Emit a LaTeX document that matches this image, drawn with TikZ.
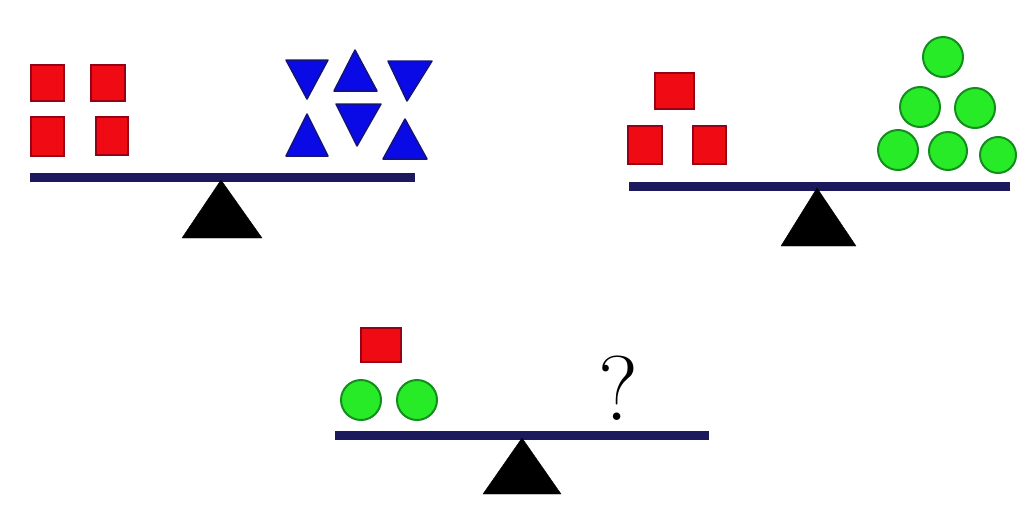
\documentclass[tikz,border=0pt]{standalone}
\usepackage{tikz}

\definecolor{beamblue}{RGB}{28,26,92}
\definecolor{boxred}{RGB}{240,10,20}
\definecolor{boxedge}{RGB}{150,0,20}
\definecolor{triblue}{RGB}{10,10,230}
\definecolor{triedge}{RGB}{20,20,120}
\definecolor{ballgreen}{RGB}{40,235,40}
\definecolor{balledge}{RGB}{20,140,30}

\begin{document}
\begin{tikzpicture}[x=1pt, y=-1pt,
  beam/.style={line width=9pt, beamblue},
  fulcrum/.style={fill=black, draw=black, line join=round},
  weightbox/.style={fill=boxred, draw=boxedge, line width=2pt},
  weighttri/.style={fill=triblue, draw=triedge, line width=1.5pt, line join=round},
  weightball/.style={fill=ballgreen, draw=balledge, line width=2pt}]
  \useasboundingbox (0,0) rectangle (1019,509);

  % Scale 1: four squares against six triangles
  \draw[beam] (30,177) -- (415,177);
  \filldraw[fulcrum] (221,180) -- (262,238) -- (182,238) -- cycle;
  \filldraw[weightbox] (31,65) rectangle (64,101);
  \filldraw[weightbox] (91,65) rectangle (125,101);
  \filldraw[weightbox] (31,117) rectangle (64,156);
  \filldraw[weightbox] (96,117) rectangle (128,155);
  % triangles
  \filldraw[weighttri] (286,60) -- (328,60) -- (307,99) -- cycle;
  \filldraw[weighttri] (334,91) -- (377,91) -- (355,50) -- cycle;
  \filldraw[weighttri] (388,61) -- (432,61) -- (407,101) -- cycle;
  \filldraw[weighttri] (286,156) -- (328,156) -- (307,114) -- cycle;
  \filldraw[weighttri] (336,104) -- (381,104) -- (357,146) -- cycle;
  \filldraw[weighttri] (383,159) -- (427,159) -- (405,119) -- cycle;

  % Scale 2: three squares against six balls
  \draw[beam] (629,186) -- (1010,186);
  \filldraw[fulcrum] (817,188) -- (856,246) -- (781,246) -- cycle;
  \filldraw[weightbox] (655,73) rectangle (694,109);
  \filldraw[weightbox] (628,126) rectangle (662,164);
  \filldraw[weightbox] (693,126) rectangle (726,164);
  % balls
  \filldraw[weightball] (943,57) circle (20);
  \filldraw[weightball] (920,107) circle (20);
  \filldraw[weightball] (975,108) circle (20);
  \filldraw[weightball] (898,150) circle (20);
  \filldraw[weightball] (948,151) circle (19);
  \filldraw[weightball] (998,155) circle (18);

  % Scale 3: one square and two balls against the unknown
  \draw[beam] (335,435) -- (709,435);
  \filldraw[fulcrum] (522,438) -- (561,494) -- (483,494) -- cycle;
  \filldraw[weightbox] (361,328) rectangle (401,362);
  \filldraw[weightball] (361,400) circle (20);
  \filldraw[weightball] (417,400) circle (20);
  \node[font=\fontsize{92}{92}\selectfont, inner sep=0pt] (unknown) at (618,388) {?};
\end{tikzpicture}
\end{document}
